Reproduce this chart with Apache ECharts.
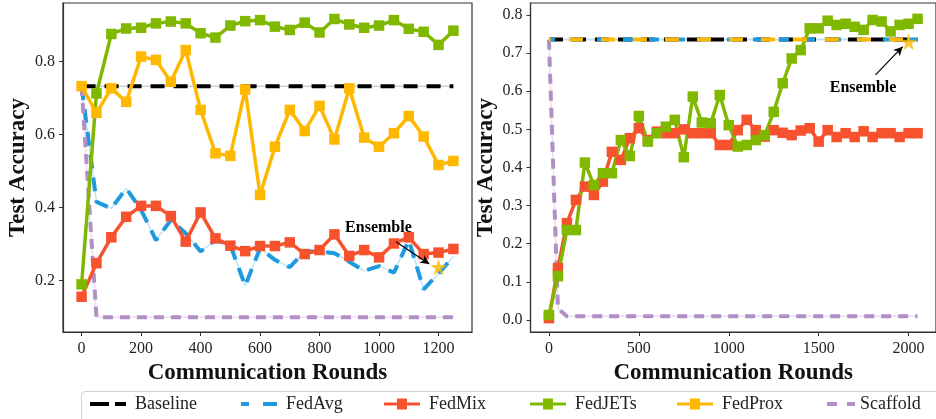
<!DOCTYPE html>
<html>
<head>
<meta charset="utf-8">
<script src="https://cdn.jsdelivr.net/npm/echarts@6/dist/echarts.min.js"></script>
<style>
  html, body { margin: 0; padding: 0; background: #fff; }
  #chart { width: 936px; height: 419px; }
</style>
</head>
<body>
<div id="chart"></div>
<script>
// rounds (x values)
const roundsLeft = [0, 50, 100, 150, 200, 250, 300, 350, 400, 450, 500, 550, 600, 650, 700, 750, 800, 850, 900, 950, 1000, 1050, 1100, 1150, 1200, 1250];
const roundsRight = [0, 50, 100, 150, 200, 250, 300, 350, 400, 450, 500, 550, 600, 650, 700, 750, 800, 850, 900, 950, 1000,
  1050, 1100, 1150, 1200, 1250, 1300, 1350, 1400, 1450, 1500, 1550, 1600, 1650, 1700, 1750, 1800, 1850, 1900, 1950, 2000, 2050];

// left panel accuracies
const leftBaseline = [0.733, 0.733];
const leftBaselineRounds = [0, 1250];
const leftFedAvg = [0.733, 0.416, 0.398, 0.453, 0.394, 0.311, 0.366, 0.330, 0.280, 0.311, 0.298, 0.186, 0.289, 0.257, 0.237, 0.280, 0.280, 0.275, 0.252, 0.227, 0.240, 0.222, 0.311, 0.176, 0.220, 0.266];
const leftFedMix = [0.156, 0.248, 0.319, 0.375, 0.405, 0.405, 0.377, 0.307, 0.387, 0.316, 0.296, 0.281, 0.295, 0.295, 0.305, 0.273, 0.284, 0.327, 0.268, 0.284, 0.264, 0.302, 0.319, 0.273, 0.277, 0.287];
const leftFedJETs = [0.190, 0.713, 0.876, 0.891, 0.893, 0.905, 0.910, 0.905, 0.878, 0.866, 0.899, 0.911, 0.914, 0.896, 0.887, 0.907, 0.880, 0.917, 0.902, 0.893, 0.899, 0.914, 0.890, 0.882, 0.846, 0.885];
const leftFedProx = [0.733, 0.660, 0.727, 0.690, 0.814, 0.805, 0.745, 0.832, 0.668, 0.549, 0.542, 0.724, 0.435, 0.567, 0.668, 0.610, 0.679, 0.587, 0.727, 0.592, 0.567, 0.604, 0.651, 0.595, 0.517, 0.528];
const leftScaffold = [0.733, 0.100, 0.100, 0.100, 0.100, 0.100, 0.100, 0.100, 0.100, 0.100, 0.100, 0.100, 0.100, 0.100, 0.100, 0.100, 0.100, 0.100, 0.100, 0.100, 0.100, 0.100, 0.100, 0.100, 0.100, 0.100];
const leftEnsemble = [1200, 0.238];

// right panel accuracies
const rightBaseline = [0.736, 0.736];
const rightBaselineRounds = [0, 2050];
const rightFedAvg = [0.736, 0.736, 0.736, 0.736, 0.736, 0.736, 0.736, 0.736, 0.736, 0.736, 0.736, 0.736, 0.736, 0.736, 0.736, 0.736, 0.736, 0.736, 0.736, 0.736, 0.736,
  0.736, 0.736, 0.736, 0.736, 0.736, 0.736, 0.736, 0.736, 0.736, 0.736, 0.736, 0.736, 0.736, 0.736, 0.736, 0.736, 0.736, 0.736, 0.736, 0.736, 0.736];
const rightFedMix = [0.005, 0.136, 0.254, 0.315, 0.350, 0.328, 0.363, 0.441, 0.420, 0.477, 0.503, 0.472, 0.494, 0.490, 0.490, 0.500, 0.490, 0.490, 0.490, 0.459, 0.459,
  0.498, 0.525, 0.498, 0.481, 0.498, 0.491, 0.485, 0.497, 0.503, 0.468, 0.498, 0.480, 0.490, 0.480, 0.495, 0.480, 0.490, 0.490, 0.480, 0.490, 0.490];
const rightFedJETs = [0.013, 0.115, 0.236, 0.236, 0.413, 0.354, 0.385, 0.385, 0.472, 0.430, 0.535, 0.468, 0.490, 0.507, 0.525, 0.427, 0.586, 0.518, 0.516, 0.590, 0.511,
  0.455, 0.459, 0.472, 0.485, 0.546, 0.621, 0.686, 0.708, 0.765, 0.765, 0.785, 0.774, 0.777, 0.769, 0.761, 0.787, 0.783, 0.757, 0.774, 0.777, 0.790];
const rightFedProx = [0.736, 0.736, 0.736, 0.736, 0.736, 0.736, 0.736, 0.736, 0.736, 0.736, 0.736, 0.736, 0.736, 0.736, 0.736, 0.736, 0.736, 0.736, 0.736, 0.736, 0.736,
  0.736, 0.736, 0.736, 0.736, 0.736, 0.736, 0.736, 0.736, 0.736, 0.736, 0.736, 0.736, 0.736, 0.736, 0.736, 0.736, 0.736, 0.736, 0.736, 0.736, 0.736];
const rightScaffold = [0.735, 0.030, 0.010, 0.010, 0.010, 0.010, 0.010, 0.010, 0.010, 0.010, 0.010, 0.010, 0.010, 0.010, 0.010, 0.010, 0.010, 0.010, 0.010, 0.010, 0.010,
  0.010, 0.010, 0.010, 0.010, 0.010, 0.010, 0.010, 0.010, 0.010, 0.010, 0.010, 0.010, 0.010, 0.010, 0.010, 0.010, 0.010, 0.010, 0.010, 0.010, 0.010];
const rightEnsemble = [2000, 0.730];

// "Ensemble" note: [text, arrow start, arrow end] in data units
const leftNote = [[998, 0.345], [1057, 0.307], [1169, 0.246]];
const rightNote = [[1747, 0.610], [1816, 0.643], [1967, 0.717]];

const xTicksLeft = [0, 200, 400, 600, 800, 1000, 1200];
const xTicksRight = [0, 500, 1000, 1500, 2000];
const yTicksLeft = [0.2, 0.4, 0.6, 0.8];
const yTicksRight = [0, 0.1, 0.2, 0.3, 0.4, 0.5, 0.6, 0.7, 0.8];

const names = ['Baseline', 'FedAvg', 'FedMix', 'FedJETs', 'FedProx', 'Scaffold'];
const colors = { Baseline: '#000000', FedAvg: '#1e9be0', FedMix: '#f7522e', FedJETs: '#80b800', FedProx: '#ffb800', Scaffold: '#b190c6' };
const light = { Baseline: '#cfcfcf', FedAvg: '#bfe3f6', Scaffold: '#eadff0' };

const FONT = 'Liberation Serif';
const STAR = 'path://M50,0 L61,35 L98,35 L68,57 L79,91 L50,70 L21,91 L32,57 L2,35 L39,35 Z';

// legend handles, drawn like the matplotlib ones
const ICON_LONG = 'path://M0,0H19V4H0Z M25,0H36V4H25Z';
const ICON_AVG = 'path://M0,0H8V4H0Z M22,0H36V4H22Z';
const ICON_SHORT = 'path://M0,0H10V4H0Z M20,0H28V4H20Z';
const ICON_MARK = 'path://M0,4H13V0H23V4H36V7H23V11H13V7H0Z';
const legendIcons = [ICON_LONG, ICON_AVG, ICON_MARK, ICON_MARK, ICON_MARK, ICON_SHORT];
const legendLeft = [85, 236, 379, 525, 672, 822];

const pairs = (xs, ys) => xs.map((x, i) => [x, ys[i]]);

function dashed(name, xs, ys, idx, dash, offset) {
  return [
    {
      name: name + '_under', type: 'line', xAxisIndex: idx, yAxisIndex: idx,
      data: pairs(xs, ys), showSymbol: false, symbol: 'none', z: 1, silent: true,
      lineStyle: { color: light[name] || colors[name], width: 1.5 }
    },
    {
      name: name, type: 'line', xAxisIndex: idx, yAxisIndex: idx,
      data: pairs(xs, ys), showSymbol: false, symbol: 'none', z: 2,
      color: colors[name],
      lineStyle: { color: colors[name], width: 4, type: dash, dashOffset: offset || 0, cap: 'butt' }
    }
  ];
}

function solid(name, xs, ys, idx) {
  return {
    name: name, type: 'line', xAxisIndex: idx, yAxisIndex: idx,
    data: pairs(xs, ys), symbol: 'rect', symbolSize: 10.5, z: 3,
    color: colors[name],
    itemStyle: { color: colors[name] },
    lineStyle: { color: colors[name], width: 3.5 }
  };
}

function ensemble(idx, pt, note) {
  return {
    name: 'Ensemble', type: 'scatter', xAxisIndex: idx, yAxisIndex: idx,
    data: [pt], symbol: STAR, symbolSize: 17, z: 6,
    itemStyle: { color: '#ffb800' },
    markLine: {
      silent: true, symbol: ['none', 'arrow'], symbolSize: [7, 9],
      lineStyle: { color: '#000', width: 1.2, type: 'solid' },
      label: { show: false },
      data: [[{ coord: note[1] }, { coord: note[2] }]]
    },
    markPoint: {
      silent: true, symbol: 'circle', symbolSize: 0,
      label: { show: true, position: 'inside', formatter: 'Ensemble', fontFamily: FONT, fontWeight: 'bold', fontSize: 16, color: '#000' },
      data: [{ coord: note[0] }]
    }
  };
}

function xAxisFor(idx, min, max, ticks) {
  return {
    type: 'value', gridIndex: idx, min: min, max: max,
    name: 'Communication Rounds', nameLocation: 'middle', nameGap: 25,
    nameTextStyle: { fontFamily: FONT, fontWeight: 'bold', fontSize: 23, color: '#111' },
    axisLine: { show: true, onZero: false, lineStyle: { color: '#333', width: 1.2 } },
    axisTick: { show: true, length: 4, customValues: ticks, lineStyle: { color: '#333' } },
    axisLabel: { customValues: ticks, margin: 9, fontFamily: FONT, fontSize: 16, color: '#222', formatter: v => String(v) },
    splitLine: { show: false }
  };
}

function yAxisFor(idx, min, max, ticks, gap) {
  return {
    type: 'value', gridIndex: idx, min: min, max: max,
    name: 'Test Accuracy', nameLocation: 'middle', nameGap: gap,
    nameTextStyle: { fontFamily: FONT, fontWeight: 'bold', fontSize: 23, color: '#111' },
    axisLine: { show: true, onZero: false, lineStyle: { color: '#333', width: 1.2 } },
    axisTick: { show: true, length: 4, customValues: ticks, lineStyle: { color: '#333' } },
    axisLabel: { customValues: ticks, margin: 8, fontFamily: FONT, fontSize: 16, color: '#222', formatter: v => v.toFixed(1) },
    splitLine: { show: false }
  };
}

const option = {
  animation: false,
  backgroundColor: '#fff',
  grid: [
    { left: 63, top: 3, width: 409, height: 329, show: true, borderColor: '#333', borderWidth: 1.2, backgroundColor: 'transparent' },
    { left: 530.5, top: 3, width: 410, height: 329, show: true, borderColor: '#333', borderWidth: 1.2, backgroundColor: 'transparent' }
  ],
  xAxis: [
    xAxisFor(0, -62.5, 1312.5, xTicksLeft),
    xAxisFor(1, -102.5, 2152.5, xTicksRight)
  ],
  yAxis: [
    yAxisFor(0, 0.0595, 0.9608, yTicksLeft, 33),
    yAxisFor(1, -0.0315, 0.8315, yTicksRight, 33)
  ],
  legend: names.map((n, i) => ({
    data: [n], left: legendLeft[i], top: 390,
    icon: legendIcons[i],
    itemWidth: i === 5 ? 28 : 36,
    itemHeight: legendIcons[i] === ICON_MARK ? 11 : 4,
    selectedMode: false,
    formatter: '{t|{name}}',
    textStyle: {
      fontFamily: FONT, fontSize: 18, color: '#222',
      rich: { t: { fontFamily: FONT, fontSize: 18, color: '#222', padding: [0, 0, 0, i === 5 ? 0 : 4] } }
    }
  })),
  graphic: [{
    type: 'rect', left: 79, top: 389, shape: { width: 880, height: 40, r: 4 },
    style: { fill: 'none', stroke: '#d0d0d0', lineWidth: 1 }, z: -1
  }],
  series: [
    ...dashed('Baseline', leftBaselineRounds, leftBaseline, 0, [14, 9]),
    ...dashed('FedAvg', roundsLeft, leftFedAvg, 0, [14, 9]),
    solid('FedMix', roundsLeft, leftFedMix, 0),
    solid('FedJETs', roundsLeft, leftFedJETs, 0),
    solid('FedProx', roundsLeft, leftFedProx, 0),
    ...dashed('Scaffold', roundsLeft, leftScaffold, 0, [10, 7]),
    ensemble(0, leftEnsemble, leftNote),

    ...dashed('Baseline', rightBaselineRounds, rightBaseline, 1, [14, 9]),
    ...dashed('FedAvg', roundsRight, rightFedAvg, 1, [10, 16], 4),
    solid('FedMix', roundsRight, rightFedMix, 1),
    solid('FedJETs', roundsRight, rightFedJETs, 1),
    {
      name: 'FedProx', type: 'line', xAxisIndex: 1, yAxisIndex: 1,
      data: pairs(roundsRight, rightFedProx), showSymbol: false, symbol: 'none', z: 3,
      lineStyle: { color: colors.FedProx, width: 4, type: [14, 18], dashOffset: 12 }
    },
    ...dashed('Scaffold', roundsRight, rightScaffold, 1, [10, 7]),
    ensemble(1, rightEnsemble, rightNote)
  ]
};

const chart = echarts.init(document.getElementById('chart'), null, { renderer: 'canvas' });
chart.setOption(option);
</script>
</body>
</html>
